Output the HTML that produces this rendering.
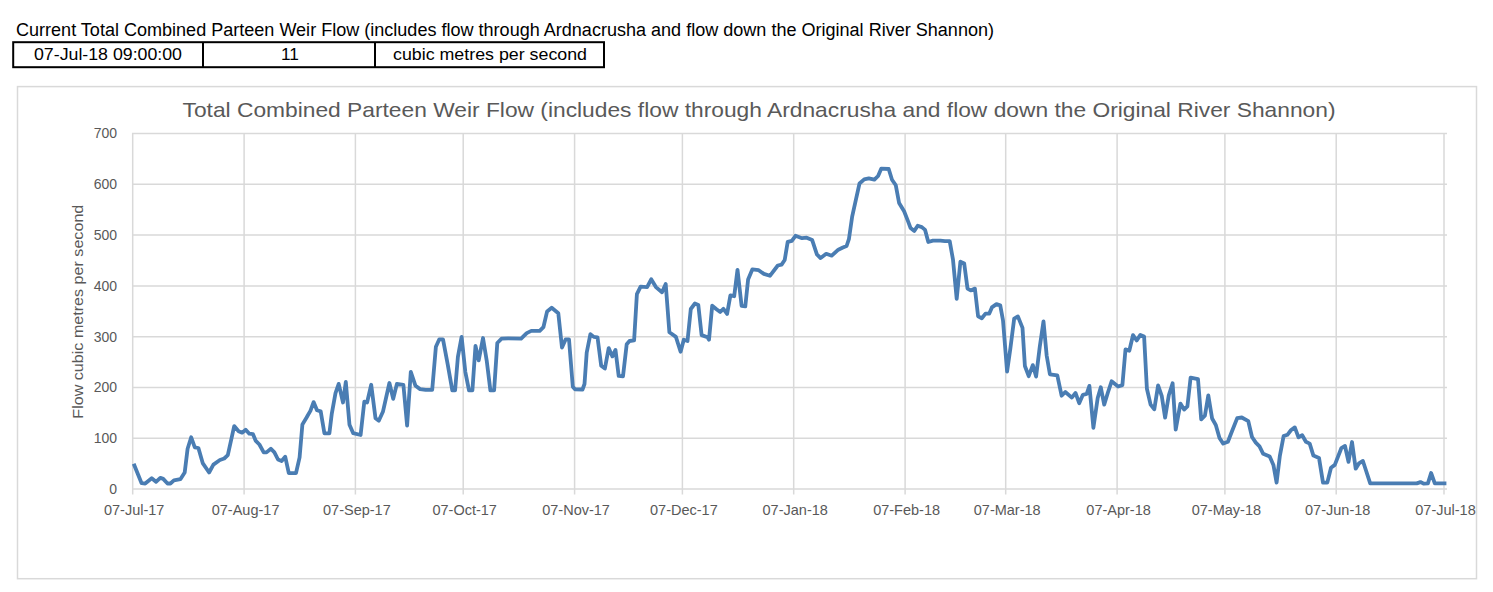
<!DOCTYPE html>
<html><head><meta charset="utf-8"><style>
html,body{margin:0;padding:0;background:#fff;}
body{width:1493px;height:592px;overflow:hidden;}
svg{display:block;font-family:"Liberation Sans",sans-serif;}
</style></head><body>
<svg width="1493" height="592" viewBox="0 0 1493 592">
<rect x="0" y="0" width="1493" height="592" fill="#fff"/>
<text x="16" y="36" font-size="17.6" fill="#000" textLength="978" lengthAdjust="spacingAndGlyphs">Current Total Combined Parteen Weir Flow (includes flow through Ardnacrusha and flow down the Original River Shannon)</text>
<g fill="none" stroke="#000" stroke-width="2">
<rect x="13.2" y="42.2" width="590.8" height="25"/>
<line x1="203" y1="42" x2="203" y2="67"/>
<line x1="375" y1="42" x2="375" y2="67"/>
</g>
<g font-size="17.3" fill="#000" text-anchor="middle">
<text x="108" y="60" textLength="148" lengthAdjust="spacingAndGlyphs">07-Jul-18 09:00:00</text>
<text x="290" y="60">11</text>
<text x="490" y="60" textLength="194" lengthAdjust="spacingAndGlyphs">cubic metres per second</text>
</g>
<rect x="17.5" y="86.6" width="1459" height="492.1" fill="#fff" stroke="#d9d9d9" stroke-width="1.5"/>
<text x="759" y="117" font-size="21.1" fill="#595959" text-anchor="middle" textLength="1153" lengthAdjust="spacingAndGlyphs">Total Combined Parteen Weir Flow (includes flow through Ardnacrusha and flow down the Original River Shannon)</text>
<g stroke="#d9d9d9" stroke-width="1.5" fill="none">
<line x1="132" y1="133.5" x2="1447" y2="133.5"/>
<line x1="132" y1="184.3" x2="1447" y2="184.3"/>
<line x1="132" y1="235.1" x2="1447" y2="235.1"/>
<line x1="132" y1="285.9" x2="1447" y2="285.9"/>
<line x1="132" y1="336.7" x2="1447" y2="336.7"/>
<line x1="132" y1="387.5" x2="1447" y2="387.5"/>
<line x1="132" y1="438.3" x2="1447" y2="438.3"/>
<line x1="132.7" y1="133" x2="132.7" y2="494.5"/>
<line x1="244.1" y1="133" x2="244.1" y2="494.5"/>
<line x1="355.4" y1="133" x2="355.4" y2="494.5"/>
<line x1="463.2" y1="133" x2="463.2" y2="494.5"/>
<line x1="574.6" y1="133" x2="574.6" y2="494.5"/>
<line x1="682.4" y1="133" x2="682.4" y2="494.5"/>
<line x1="793.7" y1="133" x2="793.7" y2="494.5"/>
<line x1="905.1" y1="133" x2="905.1" y2="494.5"/>
<line x1="1005.7" y1="133" x2="1005.7" y2="494.5"/>
<line x1="1117.1" y1="133" x2="1117.1" y2="494.5"/>
<line x1="1224.9" y1="133" x2="1224.9" y2="494.5"/>
<line x1="1336.2" y1="133" x2="1336.2" y2="494.5"/>
<line x1="1444.0" y1="133" x2="1444.0" y2="494.5"/>
</g>
<line x1="132" y1="489.1" x2="1447" y2="489.1" stroke="#d9d9d9" stroke-width="1.5"/>
<g font-size="14" fill="#595959">
<text x="117" y="494" text-anchor="end">0</text>
<text x="117" y="443" text-anchor="end">100</text>
<text x="117" y="392" text-anchor="end">200</text>
<text x="117" y="342" text-anchor="end">300</text>
<text x="117" y="291" text-anchor="end">400</text>
<text x="117" y="240" text-anchor="end">500</text>
<text x="117" y="189" text-anchor="end">600</text>
<text x="117" y="138" text-anchor="end">700</text>
</g>
<g font-size="14.5" fill="#595959">
<text x="134.2" y="515" text-anchor="middle">07-Jul-17</text>
<text x="245.6" y="515" text-anchor="middle">07-Aug-17</text>
<text x="356.9" y="515" text-anchor="middle">07-Sep-17</text>
<text x="464.7" y="515" text-anchor="middle">07-Oct-17</text>
<text x="576.1" y="515" text-anchor="middle">07-Nov-17</text>
<text x="683.9" y="515" text-anchor="middle">07-Dec-17</text>
<text x="795.2" y="515" text-anchor="middle">07-Jan-18</text>
<text x="906.6" y="515" text-anchor="middle">07-Feb-18</text>
<text x="1007.2" y="515" text-anchor="middle">07-Mar-18</text>
<text x="1118.6" y="515" text-anchor="middle">07-Apr-18</text>
<text x="1226.4" y="515" text-anchor="middle">07-May-18</text>
<text x="1337.7" y="515" text-anchor="middle">07-Jun-18</text>
<text x="1445.5" y="515" text-anchor="middle">07-Jul-18</text>
</g>
<text transform="translate(82.5,311.7) rotate(-90)" font-size="15.4" fill="#595959" text-anchor="middle" textLength="214" lengthAdjust="spacingAndGlyphs">Flow cubic metres per second</text>
<path d="M133.7,463.8 L141.6,483.2 L145.2,483.5 L151.7,478.2 L156.0,481.8 L160.3,477.8 L163.2,478.9 L167.5,483.5 L170.4,483.5 L173.9,480.4 L180.4,479.2 L184.7,472.5 L187.6,448.8 L191.2,437.3 L194.8,447.3 L198.4,448.0 L202.7,463.1 L209.1,472.5 L213.4,464.6 L219.9,460.0 L224.2,458.5 L227.8,455.2 L234.2,426.1 L238.6,431.2 L242.1,432.7 L245.7,429.8 L249.3,433.7 L252.9,434.1 L255.8,440.9 L259.4,444.5 L263.7,452.4 L266.5,452.4 L270.9,448.8 L274.4,452.4 L278.0,459.5 L281.6,461.0 L285.2,456.7 L288.8,473.2 L296.0,473.2 L299.6,457.4 L302.4,424.4 L306.0,418.6 L307.7,415.5 L310.4,410.9 L313.6,402.1 L317.0,410.3 L320.7,411.4 L324.4,433.3 L329.4,433.3 L331.8,413.6 L335.5,393.2 L338.7,383.9 L343.0,402.5 L345.8,382.0 L349.5,424.8 L353.2,433.2 L360.6,435.0 L364.3,401.6 L367.1,402.5 L371.2,384.8 L375.5,418.3 L378.8,420.7 L382.9,411.8 L389.4,383.0 L393.2,398.8 L396.9,383.9 L403.4,384.8 L407.1,425.7 L410.8,371.8 L415.5,385.8 L420.1,389.1 L425.7,389.9 L432.2,389.9 L435.9,346.7 L439.3,339.3 L443.0,339.3 L447.7,364.3 L452.3,390.4 L455.1,390.4 L457.9,356.9 L461.6,336.8 L465.3,371.8 L469.0,390.4 L472.4,390.4 L475.5,345.8 L478.7,360.3 L483.0,338.0 L486.7,360.6 L490.4,390.4 L494.1,390.4 L497.3,343.0 L501.6,338.7 L508.1,338.3 L521.1,338.7 L526.7,333.1 L531.3,330.9 L539.7,330.9 L543.4,327.2 L547.1,311.4 L551.7,307.7 L558.3,313.2 L562.0,347.6 L565.7,339.3 L569.0,339.3 L572.8,386.7 L575.0,389.3 L582.5,389.5 L584.5,384.0 L586.7,352.7 L590.4,334.1 L593.8,336.9 L597.5,337.3 L601.2,365.7 L604.9,368.5 L608.7,348.1 L612.4,356.4 L615.5,349.9 L618.7,375.9 L623.0,376.3 L626.7,344.3 L629.5,341.0 L634.1,340.3 L636.9,294.2 L640.6,286.7 L647.1,287.1 L651.2,279.3 L655.9,287.1 L662.0,292.3 L665.7,283.9 L669.4,332.3 L675.9,336.9 L680.6,351.8 L683.8,339.7 L687.5,341.0 L690.8,309.0 L694.9,303.5 L698.3,304.9 L701.6,335.1 L707.5,337.3 L709.0,339.7 L712.2,305.7 L716.5,309.2 L720.2,312.0 L723.4,308.8 L727.1,313.9 L730.4,295.3 L734.2,296.2 L737.5,269.8 L741.6,305.9 L745.3,306.4 L748.1,279.5 L752.4,269.3 L758.7,270.2 L763.9,273.9 L769.9,275.8 L777.8,265.5 L781.6,264.6 L784.7,260.0 L787.7,241.9 L791.8,240.8 L795.5,235.8 L802.0,238.2 L806.7,237.7 L812.2,240.1 L816.9,254.4 L820.6,258.1 L826.2,253.8 L831.7,255.7 L838.3,249.7 L842.9,247.5 L846.6,246.0 L848.9,239.2 L852.1,216.9 L855.8,200.2 L859.5,183.5 L864.2,179.4 L868.8,178.3 L874.4,179.7 L878.1,176.0 L881.3,168.6 L888.7,169.0 L892.0,179.7 L895.8,185.3 L899.1,203.0 L904.1,211.3 L907.8,220.6 L910.6,228.1 L914.3,230.9 L917.7,225.8 L921.8,227.1 L925.1,229.9 L928.3,242.0 L932.9,240.7 L940.4,240.7 L945.0,241.1 L949.7,241.1 L953.0,259.7 L956.7,298.8 L960.4,261.6 L964.2,263.5 L967.5,288.6 L970.7,290.4 L974.9,288.6 L978.1,316.4 L981.8,318.3 L985.5,313.6 L989.3,313.6 L991.9,307.4 L996.5,304.1 L1000.2,305.2 L1003.0,320.4 L1007.1,371.6 L1010.4,348.3 L1014.2,318.6 L1017.9,316.4 L1022.5,327.9 L1024.9,366.0 L1028.7,376.2 L1032.8,365.1 L1036.1,376.6 L1039.8,346.5 L1043.5,321.4 L1046.7,355.8 L1049.9,374.3 L1057.3,375.3 L1061.6,395.7 L1065.3,392.0 L1071.8,397.6 L1075.5,392.9 L1079.2,403.2 L1082.9,394.8 L1086.7,393.9 L1089.4,385.9 L1093.4,427.8 L1097.7,398.1 L1100.8,387.3 L1104.2,404.6 L1107.9,392.5 L1111.6,381.3 L1118.1,386.5 L1122.4,385.1 L1125.5,349.4 L1129.3,350.7 L1133.0,335.2 L1136.7,340.4 L1140.4,334.9 L1144.1,336.4 L1146.9,388.8 L1150.6,404.6 L1154.3,409.2 L1158.1,385.4 L1161.8,396.2 L1165.1,417.6 L1168.8,395.3 L1172.6,383.2 L1175.7,429.7 L1180.4,403.6 L1184.1,409.6 L1187.4,406.4 L1190.6,377.6 L1198.0,379.1 L1201.2,419.4 L1204.9,415.7 L1208.3,395.3 L1212.1,418.5 L1215.8,425.0 L1219.5,438.0 L1223.2,443.6 L1227.9,441.7 L1231.2,433.3 L1237.2,418.1 L1241.8,417.5 L1248.3,421.2 L1252.0,437.0 L1255.8,442.6 L1259.5,446.3 L1263.2,453.8 L1269.7,456.6 L1273.4,464.9 L1276.6,482.6 L1279.9,455.6 L1283.6,436.1 L1287.4,434.8 L1291.1,430.0 L1294.8,427.4 L1298.5,437.4 L1302.2,435.2 L1305.9,441.7 L1309.7,443.6 L1313.4,455.6 L1319.0,457.9 L1323.0,482.6 L1327.3,482.6 L1331.0,467.7 L1334.8,464.9 L1341.3,448.2 L1345.0,446.0 L1348.5,461.8 L1352.0,442.0 L1355.7,468.7 L1358.9,463.4 L1362.9,461.0 L1370.2,483.4 L1374.2,483.4 L1416.7,483.4 L1420.4,482.1 L1423.9,483.7 L1427.9,483.4 L1431.1,473.0 L1434.8,483.4 L1446.4,483.4" fill="none" stroke="#4a7db3" stroke-width="3.8" stroke-linejoin="round" stroke-linecap="butt"/>
</svg>
</body></html>
